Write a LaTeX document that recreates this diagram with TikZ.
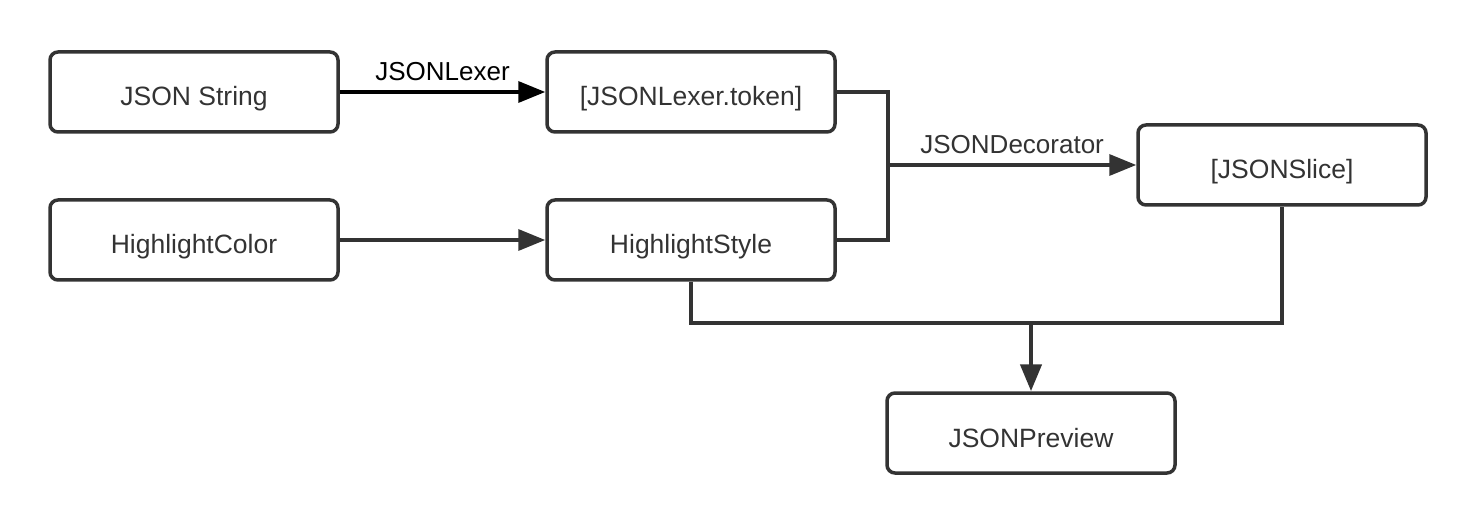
\documentclass[tikz,border=0pt]{standalone}
\usepackage{fontspec}
\setmainfont{Liberation Sans}
\usetikzlibrary{arrows.meta,positioning}
\definecolor{linegray}{RGB}{51,51,51}

\begin{document}
\begin{tikzpicture}[x=1pt,y=-1pt,
  box/.style={draw=linegray,line width=3.5pt,rounded corners=8pt,minimum width=288pt,minimum height=80pt,text=linegray,font=\fontsize{26.5}{30}\selectfont,text height=29pt,text depth=1pt},
  wire/.style={draw=linegray,line width=3.5pt},
  conn/.style={wire,-{Triangle[length=27pt,width=21pt]}},
  lbl/.style={font=\fontsize{26}{30}\selectfont,above=6pt}]
\useasboundingbox (0,0) rectangle (1477,526);
\node[box] (str) at (194,92) {JSON String};
\node[box] (tok) at (691,92) {[JSONLexer.token]};
\node[box] (color) at (194,240) {HighlightColor};
\node[box] (style) at (691,240) {HighlightStyle};
\node[box] (slice) at (1282,165) {[JSONSlice]};
\node[box] (preview) at (1031,433) {JSONPreview};
\coordinate (join) at (888,165);
\coordinate (merge) at (1031,323);
\draw[conn,draw=black] (str) -- node[lbl] {JSONLexer} (tok);
\draw[conn] (color) -- (style);
\draw[wire] (tok.east) -| (join) |- (style.east);
\draw[conn] (join) -- node[lbl,text=linegray] {JSONDecorator} (slice);
\draw[wire] (style.south) |- (merge) -| (slice.south);
\draw[conn,line width=4.5pt] (merge) -- (preview);
\end{tikzpicture}
\end{document}
